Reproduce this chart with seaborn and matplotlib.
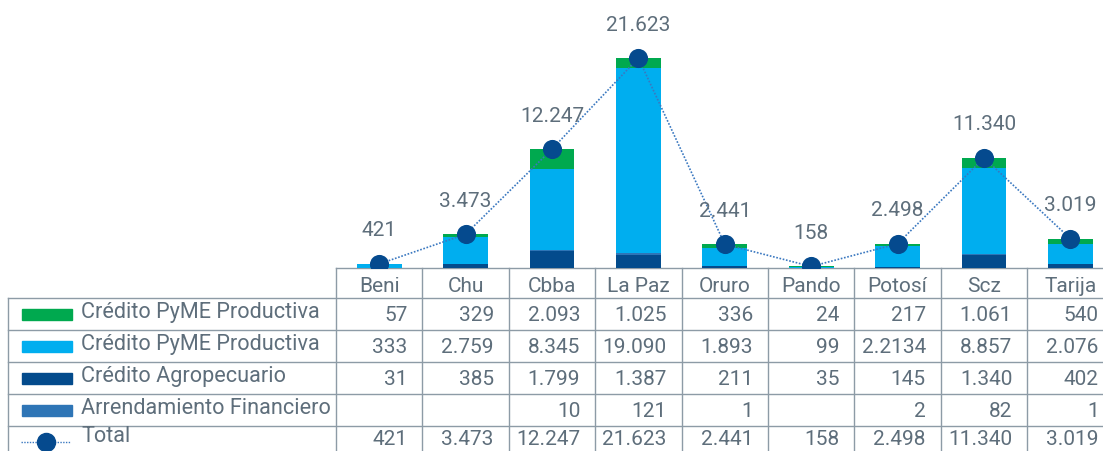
import numpy as np
import pandas as pd
import matplotlib.pyplot as plt
import seaborn as sns

# Datos por departamento
deptos = ['Beni', 'Chu', 'Cbba', 'La Paz', 'Oruro', 'Pando', 'Potosí', 'Scz', 'Tarija']
pyme_verde = [57, 329, 2093, 1025, 336, 24, 217, 1061, 540]
pyme_celeste = [333, 2759, 8345, 19090, 1893, 99, 2134, 8857, 2076]
agropecuario = [31, 385, 1799, 1387, 211, 35, 145, 1340, 402]
arrendamiento = [None, None, 10, 121, 1, None, 2, 82, 1]
total = [421, 3473, 12247, 21623, 2441, 158, 2498, 11340, 3019]

fila_nombres = ['Crédito PyME Productiva', 'Crédito PyME Productiva',
                'Crédito Agropecuario', 'Arrendamiento Financiero', 'Total']
# la tabla original imprime el valor celeste de Potosí como "2.2134"
texto_corregido = {(1, 6): '2.2134'}

c_verde = '#00A94F'
c_celeste = '#00AEEF'
c_agro = '#034B8C'
c_arrend = '#2E75B6'
c_punto = '#054A8E'
c_linea = '#3A78C0'
c_texto = '#5E6E7B'
c_grid = '#8D9BA6'

plt.rcParams['font.family'] = ['Roboto', 'DejaVu Sans']

W, H = 1103, 452
col0, colw = 336, 86.4
base_y = 269
fs = 15

df = pd.DataFrame({'depto': deptos, 'verde': pyme_verde, 'celeste': pyme_celeste,
                   'agro': agropecuario,
                   'arrend': [v or 0 for v in arrendamiento], 'total': total})


def fmt(v):
    if v is None:
        return ''
    return f'{v:,}'.replace(',', '.')


fig = plt.figure(figsize=(W / 100, H / 100), dpi=100)
ax = fig.add_axes([col0 / W, (H - base_y) / H, 9 * colw / W, base_y / H])

# barras apiladas: agropecuario, arrendamiento, celeste, verde
bottom = np.zeros(len(df))
for col, color in [('agro', c_agro), ('arrend', c_arrend), ('celeste', c_celeste), ('verde', c_verde)]:
    sns.barplot(data=df, x='depto', y=col, bottom=bottom, color=color, saturation=1,
                width=0.52, ax=ax, zorder=2)
    bottom = bottom + df[col].values

xs = np.arange(len(df))
sns.lineplot(x=xs, y=df['total'], ax=ax, color=c_linea, linestyle=(0, (1, 1)),
             linewidth=1.2, zorder=3)
sns.scatterplot(x=xs, y=df['total'], ax=ax, color=c_punto, s=190, linewidth=0, zorder=4)

for x, v in zip(xs, total):
    ax.annotate(fmt(v), (x, v), xytext=(0, 34), textcoords='offset pixels',
                ha='center', va='center', fontsize=fs, color=c_texto)

ax.set_xlim(-0.5, 8.5)
ax.set_ylim(0, 27700)
ax.axis('off')

# tabla de datos
tab = fig.add_axes([0, 0, 1, 1], zorder=-1)
tab.set_xlim(0, W)
tab.set_ylim(H, 0)
tab.axis('off')

row_h = 32
y_rows = [base_y + 30 + i * row_h for i in range(6)]
x_end = col0 + 9 * colw

lw = 1.0
tab.plot([col0, x_end], [base_y, base_y], color=c_grid, lw=lw)
for y in y_rows[:5]:
    tab.plot([8, x_end], [y, y], color=c_grid, lw=lw)
tab.plot([8, 8], [y_rows[0], H], color=c_grid, lw=lw)
for i in range(10):
    x = col0 + i * colw
    tab.plot([x, x], [base_y, H], color=c_grid, lw=lw)

for i, d in enumerate(deptos):
    tab.text(col0 + (i + 0.5) * colw, (base_y + y_rows[0]) / 2 + 3, d,
             ha='center', va='center', fontsize=fs, color=c_texto)

filas = [pyme_verde, pyme_celeste, agropecuario, arrendamiento, total]
colores = [c_verde, c_celeste, c_agro, c_arrend]
for r, (nombre, vals) in enumerate(zip(fila_nombres, filas)):
    yc = y_rows[r] + row_h / 2
    if r < 4:
        tab.add_patch(plt.Rectangle((22, yc - 5.5), 50, 11, color=colores[r]))
    else:
        yc = y_rows[r] + 12
        tab.plot([21, 71], [yc + 4, yc + 4], color=c_linea, lw=1, linestyle=(0, (1, 1)))
        tab.plot([46], [yc + 4], 'o', color=c_punto, markersize=13)
    tab.text(81, yc - 2, nombre, ha='left', va='center', fontsize=15.6, color=c_texto)
    for i, v in enumerate(vals):
        s = texto_corregido.get((r, i), fmt(v))
        tab.text(col0 + (i + 1) * colw - 15, yc + 1, s, ha='right', va='center',
                 fontsize=fs, color=c_texto)

fig.savefig('out.png', dpi=100)
